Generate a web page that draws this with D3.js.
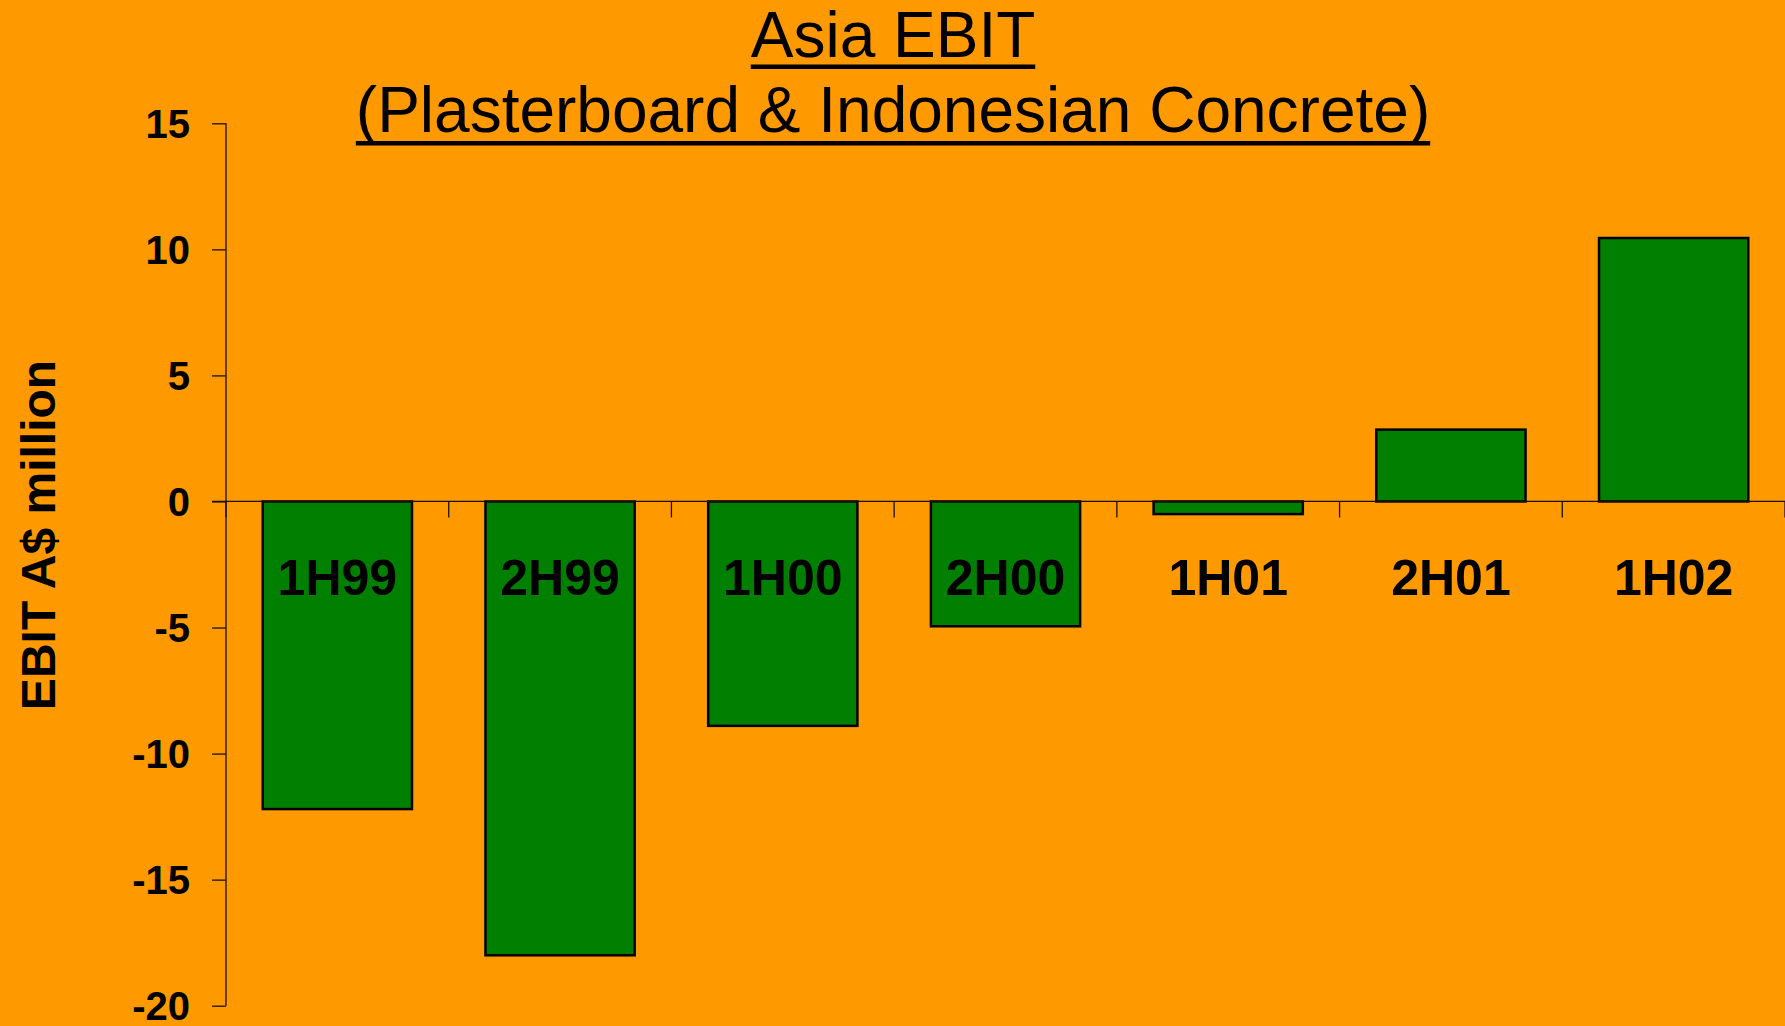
<!DOCTYPE html>
<html>
<head>
<meta charset="utf-8">
<script src="https://cdn.jsdelivr.net/npm/d3@7"></script>
<style>
  html, body { margin: 0; padding: 0; background: #ff9900; }
  svg { display: block; font-family: "Liberation Sans", Arial, sans-serif; }
</style>
</head>
<body>
<svg id="chart"></svg>
<script>
// data
const categories = ['1H99', '2H99', '1H00', '2H00', '1H01', '2H01', '1H02'];
const ebit = [-12.2, -18.0, -8.9, -4.95, -0.5, 2.85, 10.45];
const yTicks = [15, 10, 5, 0, -5, -10, -15, -20];
const titleLines = ['Asia EBIT', '(Plasterboard & Indonesian Concrete)'];
const yTitle = 'EBIT A$ million';

const W = 1785, H = 1026;
const svg = d3.select('#chart').attr('width', W).attr('height', H);

svg.append('rect').attr('width', W).attr('height', H).attr('fill', '#ff9900');

const left = 226, right = 1785;
const x = d3.scaleBand().domain(categories).range([left, right]).padding(0);
const y = d3.scaleLinear().domain([-20, 15]).range([1005.7, 123.3]);

const barFrac = 0.67;

// bars
svg.append('g').selectAll('rect')
  .data(categories.map((c, i) => ({ c, v: ebit[i] })))
  .enter()
  .append('rect')
  .attr('x', d => x(d.c) + x.bandwidth() * (1 - barFrac) / 2)
  .attr('width', x.bandwidth() * barFrac)
  .attr('y', d => y(Math.max(0, d.v)))
  .attr('height', d => Math.abs(y(d.v) - y(0)))
  .attr('fill', '#007f00')
  .attr('stroke', '#000')
  .attr('stroke-width', 2.5);

// y axis (plain hyphen for negatives, like the original)
const yAxis = svg.append('g')
  .attr('transform', `translate(${left},0)`)
  .call(d3.axisLeft(y).tickValues(yTicks).tickSize(14).tickPadding(22).tickFormat(d => String(d)));
yAxis.select('.domain').attr('stroke', '#1a1000').attr('stroke-width', 1.3).attr('d', `M0,${y(15)}V${y(-20)}`);
yAxis.selectAll('.tick line').attr('stroke', '#1a1000').attr('stroke-width', 1.3);
yAxis.selectAll('.tick text')
  .attr('fill', '#000')
  .style('font-size', '40px')
  .style('font-weight', 'bold')
  .style('font-family', '"Liberation Sans", Arial, sans-serif')
  .attr('dy', '0.35em');

// x axis at zero, ticks on category boundaries
const xg = svg.append('g');
xg.append('line')
  .attr('x1', left - 14).attr('x2', right)
  .attr('y1', y(0)).attr('y2', y(0))
  .attr('stroke', '#1a1000').attr('stroke-width', 1.3);
xg.selectAll('line.tk')
  .data(categories)
  .enter()
  .append('line')
  .attr('class', 'tk')
  .attr('x1', d => x(d) + x.bandwidth()).attr('x2', d => x(d) + x.bandwidth())
  .attr('y1', y(0)).attr('y2', y(0) + 16)
  .attr('stroke', '#1a1000').attr('stroke-width', 1.3);
xg.append('line')
  .attr('x1', left).attr('x2', left)
  .attr('y1', y(0)).attr('y2', y(0) + 16)
  .attr('stroke', '#1a1000').attr('stroke-width', 1.3);

// category labels
svg.append('g').selectAll('text')
  .data(categories)
  .enter()
  .append('text')
  .attr('x', d => x(d) + x.bandwidth() / 2)
  .attr('y', 595)
  .attr('text-anchor', 'middle')
  .style('font-size', '50px')
  .style('font-weight', 'bold')
  .text(d => d);

// y axis title
svg.append('text')
  .attr('transform', `translate(55,535)rotate(-90)`)
  .attr('text-anchor', 'middle')
  .style('font-size', '48px')
  .style('font-weight', 'bold')
  .text(yTitle);

// title with underlines
const titleY = [57, 132];
titleLines.forEach((t, i) => {
  const txt = svg.append('text')
    .attr('x', 893)
    .attr('y', titleY[i])
    .attr('text-anchor', 'middle')
    .style('font-size', '64px')
    .text(t);
  const bb = txt.node().getBBox();
  svg.append('rect')
    .attr('x', bb.x)
    .attr('width', bb.width)
    .attr('y', titleY[i] + (i === 0 ? 7.5 : 9))
    .attr('height', 4.5)
    .attr('fill', '#000');
});
</script>
</body>
</html>
